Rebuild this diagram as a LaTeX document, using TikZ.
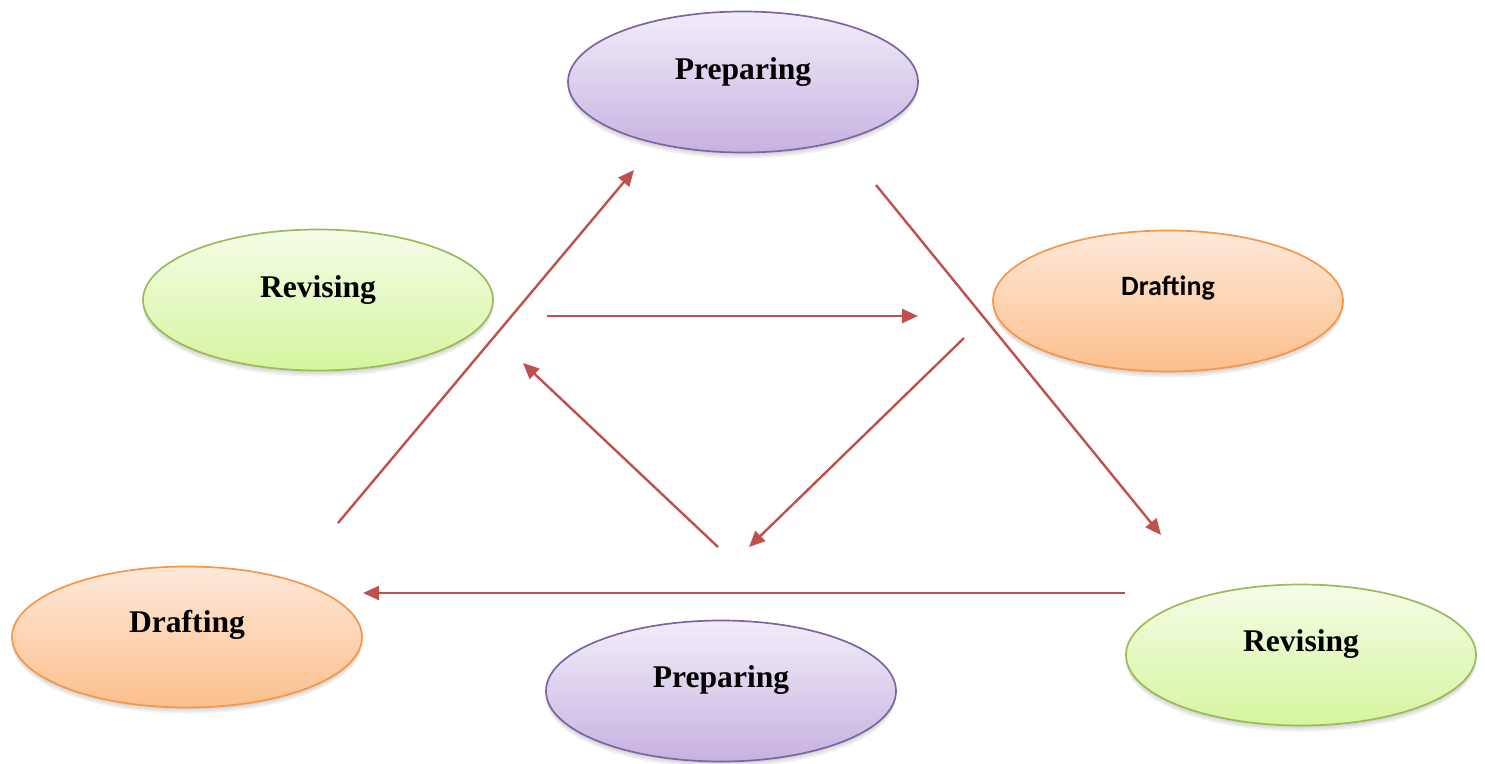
\documentclass[tikz,border=0pt]{standalone}
\usepackage{fontspec}
\setmainfont{Liberation Serif}
\newfontfamily\sanslabel{Carlito}
\usetikzlibrary{shapes.geometric,arrows.meta,shadows}

\definecolor{purpleEdge}{HTML}{8064A2}
\definecolor{purpleTop}{HTML}{F2EDF9}
\definecolor{purpleBot}{HTML}{C6B2E1}
\definecolor{orangeEdge}{HTML}{F79646}
\definecolor{orangeTop}{HTML}{FEE9DA}
\definecolor{orangeBot}{HTML}{FCBF8C}
\definecolor{greenEdge}{HTML}{9BBB59}
\definecolor{greenTop}{HTML}{F5FDE8}
\definecolor{greenBot}{HTML}{D5F59E}
\definecolor{arrowRed}{HTML}{C0504D}

\tikzset{
  stage/.style={ellipse, minimum width=350pt, minimum height=141pt, inner sep=0pt,
    line width=1.7pt,
    general shadow={fill=black, opacity=0.06, shadow yshift=-2pt},
    general shadow={fill=black, opacity=0.06, shadow yshift=-4pt},
    general shadow={fill=black, opacity=0.06, shadow yshift=-6pt}},
  prep/.style={stage, draw=purpleEdge, top color=purpleTop, bottom color=purpleBot},
  draft/.style={stage, draw=orangeEdge, top color=orangeTop, bottom color=orangeBot},
  revise/.style={stage, draw=greenEdge, top color=greenTop, bottom color=greenBot},
  serifname/.style={anchor=base, inner sep=0pt, font=\fontsize{31.6}{36}\selectfont\bfseries},
  sansname/.style={anchor=base, inner sep=0pt, font=\sanslabel\fontsize{28}{32}\selectfont\bfseries},
  flow/.style={draw=arrowRed, line width=2.4pt, -{Triangle[length=16pt,width=14pt]}}
}

\begin{document}
\begin{tikzpicture}[x=1pt,y=1pt]
\useasboundingbox (0,0) rectangle (1485,-763);

% stages
\node[prep]   (prepTop)  at (743,-82)  {};
\node[draft]  (draftR)   at (1168,-301) {};
\node[revise] (reviseL)  at (318,-300) {};
\node[draft]  (draftL)   at (187,-637) {};
\node[prep]   (prepBot)  at (721,-691) {};
\node[revise] (reviseR)  at (1301,-655) {};

% stage names
\node[serifname] (prepTopT) at ([yshift=3pt]prepTop.center) {Preparing};
\node[sansname]  (draftRT)  at ([yshift=6pt]draftR.center) {Drafting};
\node[serifname] (reviseLT) at ([yshift=3pt]reviseL.center) {Revising};
\node[serifname] (draftLT)  at ([yshift=5pt]draftL.center) {Drafting};
\node[serifname] (prepBotT) at ([yshift=4pt]prepBot.center) {Preparing};
\node[serifname] (reviseRT) at ([yshift=4pt]reviseR.center) {Revising};

% arrow end points
\coordinate (a1s) at (338,-523);  \coordinate (a1e) at (634,-170);
\coordinate (a2s) at (876,-185);  \coordinate (a2e) at (1161,-535);
\coordinate (a3s) at (1125,-593); \coordinate (a3e) at (363,-593);
\coordinate (a4s) at (547,-316);  \coordinate (a4e) at (918,-316);
\coordinate (a5s) at (964,-338);  \coordinate (a5e) at (749,-547);
\coordinate (a6s) at (718,-547);  \coordinate (a6e) at (523,-363);

% outer cycle
\draw[flow] (a1s) -- (a1e);
\draw[flow] (a2s) -- (a2e);
\draw[flow] (a3s) -- (a3e);
% inner cycle
\draw[flow] (a4s) -- (a4e);
\draw[flow] (a5s) -- (a5e);
\draw[flow] (a6s) -- (a6e);
\end{tikzpicture}
\end{document}
